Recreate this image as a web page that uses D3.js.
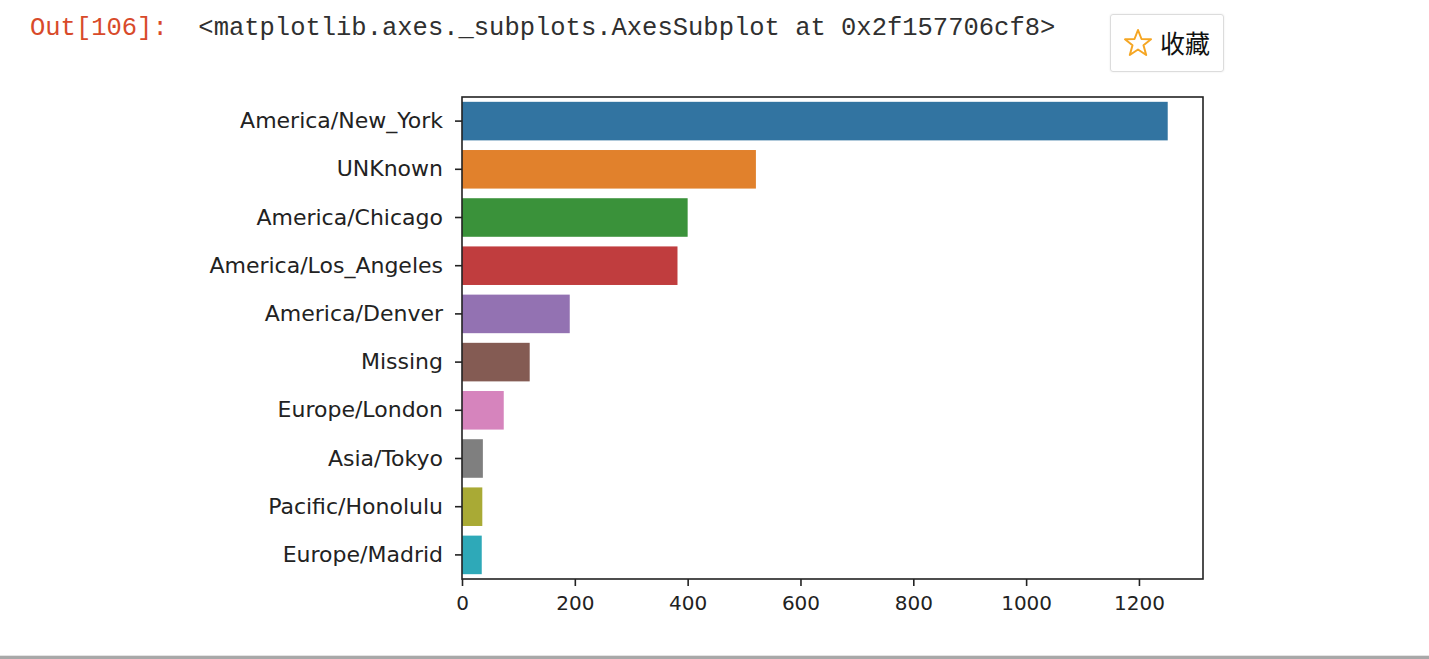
<!DOCTYPE html>
<html>
<head>
<meta charset="utf-8">
<script src="https://cdn.jsdelivr.net/npm/d3@7"></script>
<style>
body{margin:0;background:#fff;width:1429px;height:659px;overflow:hidden;position:relative;}
#out{position:absolute;left:30px;top:14px;font-family:"Liberation Mono",monospace;font-size:25.5px;white-space:pre;}
#out .p{color:#d84a2a;}
#out .t{color:#303030;}
#fav{position:absolute;left:1110px;top:14px;width:112px;height:56px;border:1px solid #dcdcdc;border-radius:3px;box-shadow:0 0 2px #e6e6e6;}
#fav span{position:absolute;left:49px;top:11px;font-family:"Noto Sans CJK SC";font-size:25px;color:#111;line-height:32px;}
#fav svg{position:absolute;left:12px;top:13px;}
#rule{position:absolute;left:0;top:655px;width:1429px;height:4px;background:#a8a8a8;border-top:1px solid #e4e4e4;}
</style>
</head>
<body>
<div id="out"><span class="p">Out[106]:</span>  <span class="t">&lt;matplotlib.axes._subplots.AxesSubplot at 0x2f157706cf8&gt;</span></div>
<div id="fav"><svg width="30" height="30" viewBox="0 0 30 30"><polygon points="15,2 18.5,11 28,11.3 20.5,17.3 23.2,27 15,21.5 6.8,27 9.5,17.3 2,11.3 11.5,11" fill="none" stroke="#f5a623" stroke-width="2" stroke-linejoin="round"/></svg><span>收藏</span></div>
<div id="rule"></div>
<svg id="chart" width="1429" height="659" style="position:absolute;left:0;top:0"></svg>
<script>
// tz counts, top 10
var zones = ["America/New_York","UNKnown","America/Chicago","America/Los_Angeles","America/Denver","Missing","Europe/London","Asia/Tokyo","Pacific/Honolulu","Europe/Madrid"];
var counts = [1251,521,400,382,191,120,74,37,36,35];
var palette = ["#3274a1","#e1812c","#3a923a","#c03d3e","#9372b2","#845b53","#d684bd","#7f7f7f","#a9aa35","#2ea9b8"];
var xticks = [0,200,400,600,800,1000,1200];

var plotL = 462, plotR = 1203, plotT = 97, plotB = 579;
var svg = d3.select("#chart");

var x = d3.scaleLinear().domain([0, d3.max(counts)*1.05]).range([plotL, plotR]);
var y = d3.scaleBand().domain(zones).range([plotT, plotB]).paddingInner(0.2).paddingOuter(0.1);

var color = d3.scaleOrdinal().domain(zones).range(palette);

svg.append("g").selectAll("rect").data(zones).enter().append("rect")
	.attr("x", x(0))
	.attr("y", function(d){return y(d);})
	.attr("height", y.bandwidth())
	.attr("width", function(d,i){return x(counts[i]) - x(0);})
	.attr("fill", function(d){return color(d);});

// frame
svg.append("rect").attr("x", plotL).attr("y", plotT).attr("width", plotR-plotL).attr("height", plotB-plotT)
	.attr("fill","none").attr("stroke","#222").attr("stroke-width",1.6);

var xAxis = svg.append("g").attr("transform","translate(0,"+plotB+")")
	.call(d3.axisBottom(x).tickValues(xticks).tickSize(7).tickPadding(10).tickFormat(d3.format("d")));
var yAxis = svg.append("g").attr("transform","translate("+plotL+",0)")
	.call(d3.axisLeft(y).tickSize(7).tickPadding(12));

[xAxis,yAxis].forEach(function(a){
	a.select(".domain").remove();
	a.selectAll("line").attr("stroke","#222").attr("stroke-width",1.6);
	a.selectAll("text").attr("fill","#222").style("font-family","DejaVu Sans");
});
xAxis.selectAll("text").style("font-size","20px");
yAxis.selectAll("text").style("font-size","22px");
</script>
</body>
</html>
